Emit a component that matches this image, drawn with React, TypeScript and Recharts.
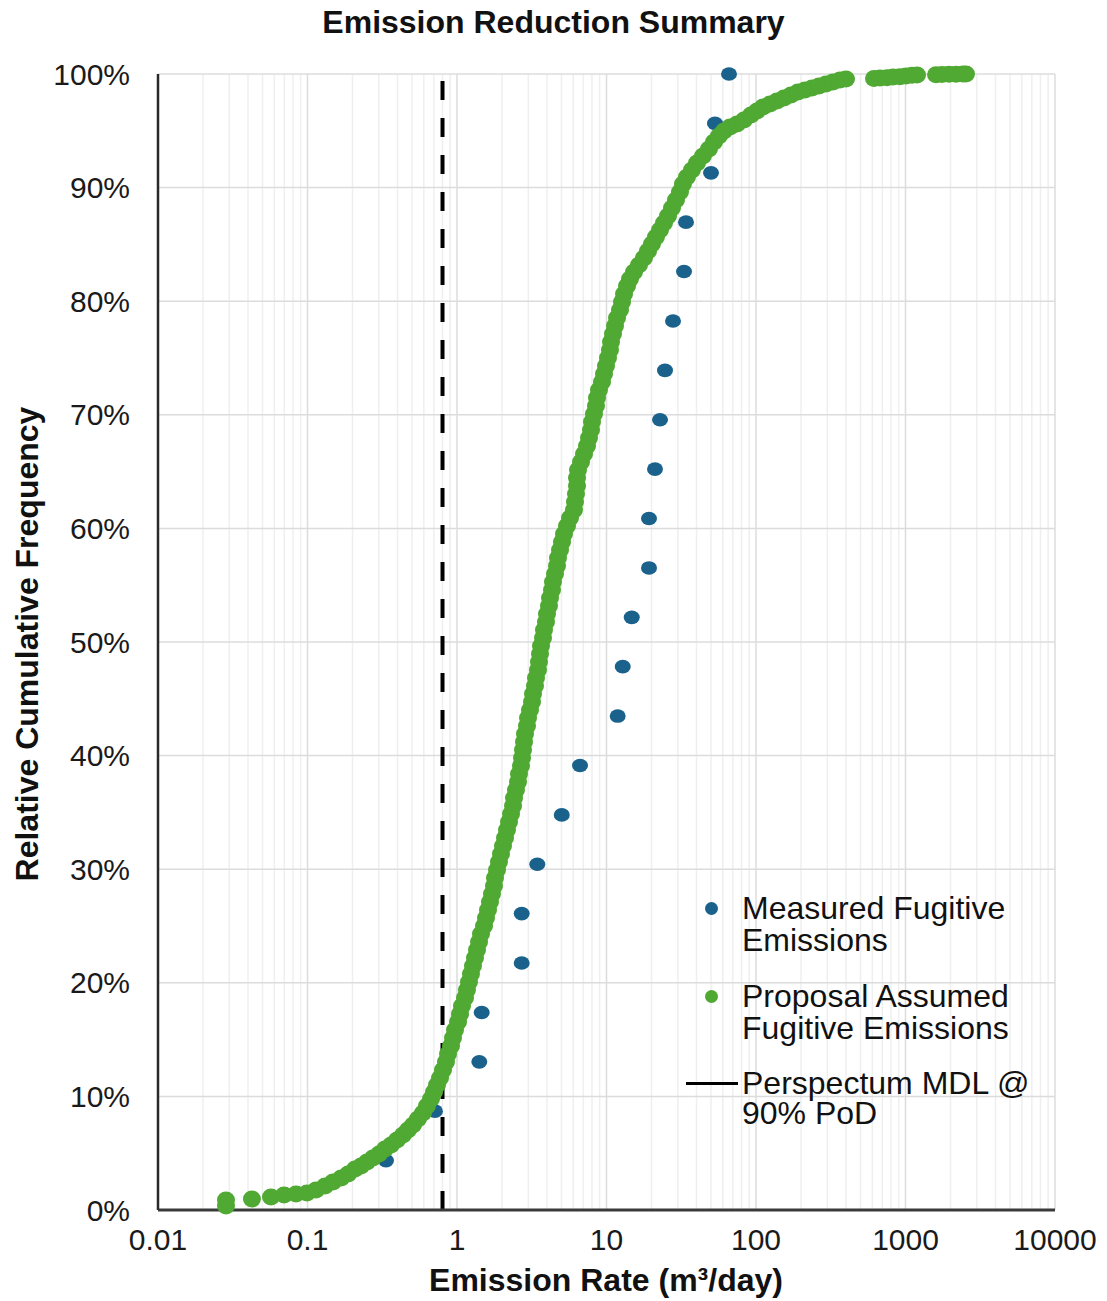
import React from 'react';
import { ScatterChart, Scatter, XAxis, YAxis, CartesianGrid, ReferenceLine, Legend } from 'recharts';

const FONT = '"Liberation Sans", Arial, Helvetica, sans-serif';
const BLUE = '#1a628b';
const GREEN = '#4fa932';

const TITLE = 'Emission Reduction Summary';
const X_TITLE = 'Emission Rate (m³/day)';
const Y_TITLE = 'Relative Cumulative Frequency';
const SERIES_NAMES = ['Measured Fugitive Emissions', 'Proposal Assumed Fugitive Emissions', 'Perspectum MDL @ 90% PoD'];

const X_TICKS = [0.01, 0.1, 1, 10, 100, 1000, 10000];
const Y_TICKS = [0, 10, 20, 30, 40, 50, 60, 70, 80, 90, 100];
const MDL_RATE = 0.8;

const MEASURED_RATE = [0.335, 0.712, 1.41, 1.463, 2.709, 2.709, 3.444, 5.02, 6.65, 11.88, 12.84, 14.75, 19.24, 19.24, 21.1, 22.8, 24.62, 27.86, 33.0, 34.02, 50.0, 53.19, 65.97];
const MEASURED_FREQ = [4.35, 8.7, 13.04, 17.39, 21.74, 26.09, 30.43, 34.78, 39.13, 43.48, 47.83, 52.17, 56.52, 60.87, 65.22, 69.57, 73.91, 78.26, 82.61, 86.96, 91.3, 95.65, 100];

const PROPOSAL_RATE = [
  0.0285, 0.0285, 0.0425, 0.057, 0.0697, 0.0838, 0.0992, 0.114, 0.131, 0.148,
  0.168, 0.187, 0.208, 0.228, 0.25, 0.274, 0.301, 0.33, 0.362, 0.397,
  0.435, 0.47, 0.508, 0.548, 0.592, 0.63, 0.67, 0.702, 0.735, 0.77,
  0.806, 0.844, 0.871, 0.912, 0.94, 0.97, 1.016, 1.047, 1.08, 1.131,
  1.166, 1.203, 1.24, 1.279, 1.319, 1.361, 1.404, 1.447, 1.516, 1.563,
  1.612, 1.662, 1.714, 1.768, 1.796, 1.852, 1.909, 1.969, 2.031, 2.095,
  2.16, 2.228, 2.298, 2.37, 2.407, 2.481, 2.559, 2.599, 2.68, 2.722,
  2.764, 2.807, 2.85, 2.939, 2.985, 3.078, 3.175, 3.224, 3.324, 3.376,
  3.482, 3.536, 3.591, 3.647, 3.761, 3.818, 3.938, 3.999, 4.124, 4.189,
  4.32, 4.386, 4.524, 4.666, 4.738, 4.887, 5.039, 5.197, 5.443, 5.7,
  6.061, 6.156, 6.252, 6.35, 6.35, 6.449, 6.754, 7.073, 7.407, 7.638,
  7.876, 7.998, 8.248, 8.505, 8.638, 8.907, 9.33, 9.623, 9.924, 10.23,
  10.55, 10.72, 11.05, 11.4, 11.76, 12.31, 12.7, 13.1, 13.72, 14.36,
  15.28, 16.5, 17.81, 18.95, 20.15, 21.43, 22.8, 24.25, 25.79, 27.42,
  29.17, 31.01, 32.48, 34.55, 37.31, 40.31, 44.2, 48.47, 52.38, 56.56,
  61.09, 67.0, 74.64, 83.14, 92.6, 101.6, 111.4, 124.0, 138.2, 153.9,
  171.4, 190.9, 212.7, 237.0, 263.9, 293.9, 327.4, 364.7, 399.9, 615.6,
  675.4, 752.2, 824.8, 918.8, 1008, 1105, 1194, 1600, 1755, 1954,
  2177, 2425, 2539,
];
const PROPOSAL_FREQ = [
  0.35, 0.88, 0.97, 1.14, 1.32, 1.41, 1.5, 1.76, 2.11, 2.46,
  2.82, 3.17, 3.61, 3.87, 4.23, 4.58, 4.93, 5.37, 5.72, 6.16,
  6.6, 7.04, 7.48, 8.01, 8.54, 9.15, 9.77, 10.39, 11.0, 11.62,
  12.32, 13.03, 13.73, 14.44, 15.14, 15.85, 16.55, 17.25, 17.96, 18.66,
  19.37, 20.07, 20.77, 21.48, 22.18, 22.89, 23.59, 24.3, 25.0, 25.7,
  26.41, 27.11, 27.82, 28.52, 29.23, 29.93, 30.63, 31.34, 32.04, 32.75,
  33.45, 34.15, 34.86, 35.56, 36.27, 36.97, 37.68, 38.38, 39.08, 39.79,
  40.49, 41.2, 41.9, 42.61, 43.31, 44.01, 44.72, 45.42, 46.13, 46.83,
  47.54, 48.24, 48.94, 49.65, 50.35, 51.06, 51.76, 52.46, 53.17, 53.87,
  54.58, 55.28, 55.99, 56.69, 57.39, 58.1, 58.8, 59.51, 60.21, 60.92,
  61.62, 62.32, 63.03, 63.73, 64.44, 65.14, 65.85, 66.55, 67.25, 67.96,
  68.66, 69.37, 70.07, 70.77, 71.48, 72.18, 72.89, 73.59, 74.3, 75.0,
  75.7, 76.41, 77.11, 77.82, 78.52, 79.23, 79.93, 80.63, 81.34, 81.95,
  82.57, 83.19, 83.8, 84.42, 85.04, 85.65, 86.27, 86.88, 87.5, 88.2,
  88.91, 89.61, 90.32, 90.93, 91.55, 92.17, 92.78, 93.4, 94.01, 94.54,
  94.98, 95.33, 95.6, 95.95, 96.39, 96.74, 97.1, 97.36, 97.62, 97.89,
  98.15, 98.42, 98.59, 98.77, 98.94, 99.12, 99.3, 99.47, 99.56, 99.6,
  99.65, 99.68, 99.74, 99.76, 99.82, 99.88, 99.91, 99.93, 99.95, 99.97,
  99.98, 99.99, 100,
];

const measuredData = MEASURED_RATE.map((x, i) => ({ x, y: MEASURED_FREQ[i] }));
const proposalData = PROPOSAL_RATE.map((x, i) => ({ x, y: PROPOSAL_FREQ[i] }));

// minor log gridlines (2..9 within each decade)
const MINOR_GRID = X_TICKS.slice(0, -1).flatMap((d) =>
  [2, 3, 4, 5, 6, 7, 8, 9].map((m) => Number((d * m).toPrecision(3)))
);

const BlueDot = (p: any) => <ellipse cx={p.cx} cy={p.cy} rx={8} ry={6.8} fill={BLUE} />;
const GreenDot = (p: any) => <ellipse cx={p.cx} cy={p.cy} rx={9} ry={8.5} fill={GREEN} />;

const legendText: React.CSSProperties = {
  position: 'absolute',
  left: 62,
  fontFamily: FONT,
  fontSize: 32,
  color: '#111',
  whiteSpace: 'nowrap',
};

const renderLegend = () => (
  <div style={{ position: 'relative', width: 400, height: 250 }}>
    <div style={{ position: 'absolute', left: 25, top: 14, width: 13, height: 13, borderRadius: 7, background: BLUE }} />
    <div style={{ ...legendText, top: 4, lineHeight: '32px' }}>
      Measured Fugitive<br />Emissions
    </div>
    <div style={{ position: 'absolute', left: 25, top: 102, width: 13, height: 13, borderRadius: 7, background: GREEN }} />
    <div style={{ ...legendText, top: 92, lineHeight: '32px' }}>
      Proposal Assumed<br />Fugitive Emissions
    </div>
    <div style={{ position: 'absolute', left: 6, top: 194, width: 52, height: 3, background: '#000' }} />
    <div style={{ ...legendText, top: 180, lineHeight: '30px' }}>
      Perspectum MDL @<br />90% PoD
    </div>
  </div>
);

const tickStyle = { fontSize: 30, fontFamily: FONT, fill: '#1a1a1a' };

export default function App() {
  return (
    <div style={{ position: 'relative', width: 1099, height: 1293, background: '#fff' }}>
      <ScatterChart width={1099} height={1293} margin={{ top: 66, right: 52, bottom: 0, left: 0 }}>
        <CartesianGrid horizontal={false} verticalValues={MINOR_GRID} stroke="#efefef" strokeWidth={1.5} />
        <CartesianGrid horizontalValues={Y_TICKS} verticalValues={X_TICKS} stroke="#dcdcdc" strokeWidth={1.5} />
        <XAxis
          dataKey="x"
          type="number"
          scale="log"
          domain={[0.01, 10000]}
          ticks={X_TICKS}
          interval={0}
          allowDataOverflow
          height={91}
          tickLine={false}
          tickSize={0}
          tickMargin={19}
          tick={tickStyle}
          tickFormatter={(v: number) => String(v)}
          axisLine={{ stroke: '#3a3a3a', strokeWidth: 3 }}
        />
        <YAxis
          dataKey="y"
          type="number"
          domain={[0, 100]}
          ticks={Y_TICKS}
          interval={0}
          width={150}
          tickLine={false}
          tickSize={0}
          tickMargin={28}
          tick={tickStyle}
          tickFormatter={(v: number) => `${v}%`}
          axisLine={{ stroke: '#2a2a2a', strokeWidth: 2.5 }}
        />
        <Scatter name={SERIES_NAMES[0]} data={measuredData} fill={BLUE} shape={BlueDot} isAnimationActive={false} />
        <Scatter name={SERIES_NAMES[1]} data={proposalData} fill={GREEN} shape={GreenDot} isAnimationActive={false} />
        <ReferenceLine x={MDL_RATE} stroke="#000" strokeWidth={4} strokeDasharray="19 18" />
        <Legend
          layout="vertical"
          align="center"
          verticalAlign="middle"
          content={renderLegend}
          wrapperStyle={{ left: 672, top: 880, width: 400, height: 250 }}
        />
      </ScatterChart>
      <div
        style={{
          position: 'absolute', left: -8, top: -4, width: 1107, textAlign: 'center',
          fontFamily: FONT, fontWeight: 'bold', fontSize: 32, lineHeight: '36px', color: '#111',
        }}
      >
        {TITLE}
      </div>
      <div
        style={{
          position: 'absolute', left: 298, top: 1254, width: 600, textAlign: 'center',
          fontFamily: FONT, fontWeight: 'bold', fontSize: 32, lineHeight: '36px', color: '#111',
        }}
      >
        {X_TITLE}
      </div>
      <div
        style={{
          position: 'absolute', left: 19 - 300, top: 636 - 18, width: 600, height: 36, textAlign: 'center',
          fontFamily: FONT, fontWeight: 'bold', fontSize: 32, lineHeight: '36px', color: '#111',
          transform: 'rotate(-90deg)', whiteSpace: 'nowrap',
        }}
      >
        {Y_TITLE}
      </div>
    </div>
  );
}
